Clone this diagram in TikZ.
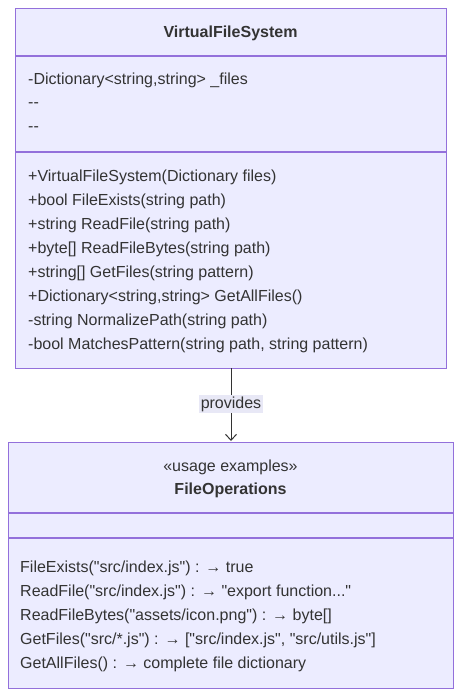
\documentclass[tikz,border=0pt]{standalone}
\usepackage{fontspec}
\setmainfont{Liberation Sans}[Ligatures=TeXOff]
\usetikzlibrary{arrows.meta}
\definecolor{boxfill}{HTML}{ECECFF}
\definecolor{boxline}{HTML}{9370DB}
\definecolor{txt}{HTML}{333333}
\definecolor{lblbg}{HTML}{E8E8F6}
\tikzset{
  classbox/.style={draw=boxline, fill=boxfill, line width=1.3pt},
  divider/.style={draw=boxline, line width=1.3pt},
  member/.style={anchor=west, inner sep=0pt, text=txt, font=\fontsize{16}{19}\selectfont, yshift=-1pt},
  ctitle/.style={anchor=center, inner sep=0pt, text=txt, font=\fontsize{16}{19}\selectfont\bfseries, yshift=-1pt},
  stereo/.style={anchor=center, inner sep=0pt, text=txt, font=\fontsize{16}{19}\selectfont, yshift=-1pt},
  conn/.style={draw=txt, line width=1pt, -{Straight Barb[length=6pt,width=11pt,line width=1pt]}},
  elabel/.style={fill=lblbg, inner sep=1.5pt, text=txt, font=\fontsize{16}{19}\selectfont}
}
\begin{document}
\begin{tikzpicture}[x=1pt,y=-1pt]
\useasboundingbox (0,0) rectangle (461,696);
% top class
\node[classbox, minimum width=431pt, minimum height=360pt, anchor=north west, inner sep=0pt] (vfs) at (15,8) {};
\draw[divider] (15,56) -- (446,56);
\draw[divider] (15,152) -- (446,152);
\node[ctitle] (vfst) at (230.5,32) {VirtualFileSystem};
\node[member] (a1) at (28,79) {-Dictionary<string,string> \_files};
\node[member] (a2) at (28,104) {--};
\node[member] (a3) at (28,128) {--};
\node[member] (m1) at (28,176) {+VirtualFileSystem(Dictionary files)};
\node[member] (m2) at (28,200) {+bool FileExists(string path)};
\node[member] (m3) at (28,224) {+string ReadFile(string path)};
\node[member] (m4) at (28,248) {+byte[] ReadFileBytes(string path)};
\node[member] (m5) at (28,272) {+string[] GetFiles(string pattern)};
\node[member] (m6) at (28,296) {+Dictionary<string,string> GetAllFiles()};
\node[member] (m7) at (28,320) {-string NormalizePath(string path)};
\node[member] (m8) at (28,344) {-bool MatchesPattern(string path, string pattern)};
% bottom class
\node[classbox, minimum width=445pt, minimum height=246pt, anchor=north west, inner sep=0pt] (fo) at (8,442) {};
\draw[divider] (8,513) -- (453,513);
\draw[divider] (8,538) -- (453,538);
\node[stereo] (fos) at (230.5,466) {«usage examples»};
\node[ctitle] (fot) at (230.5,489) {FileOperations};
\node[member] (e1) at (20,567) {FileExists("src/index.js") : → true};
\node[member] (e2) at (20,591) {ReadFile("src/index.js") : → "export function..."};
\node[member] (e3) at (20,615) {ReadFileBytes("assets/icon.png") : → byte[]};
\node[member] (e4) at (20,639) {GetFiles("src/*.js") : → ["src/index.js", "src/utils.js"]};
\node[member] (e5) at (20,663) {GetAllFiles() : → complete file dictionary};
% connector
\coordinate (s) at (231,368);
\coordinate (t) at (231,441);
\draw[conn] (s) -- (t);
\node[elabel] (lbl) at (231,404) {provides};
\end{tikzpicture}
\end{document}
